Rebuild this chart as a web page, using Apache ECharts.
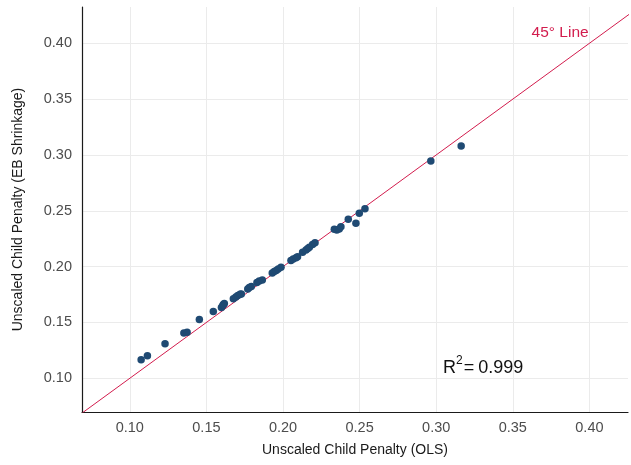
<!DOCTYPE html>
<html>
<head>
<meta charset="utf-8">
<script src="https://cdn.jsdelivr.net/npm/echarts@6/dist/echarts.min.js"></script>
<style>
  html, body { margin: 0; padding: 0; background: #ffffff; }
  #chart { width: 631px; height: 465px; }
</style>
</head>
<body>
<div id="chart"></div>
<script>
// Child penalty estimates: OLS (x) vs. empirical-Bayes shrinkage (y)
const olsPenalty = [
  0.1074, 0.1115, 0.1230, 0.1353, 0.1374, 0.1454, 0.1545, 0.1598, 0.1607, 0.1617,
  0.1611, 0.1676, 0.1692, 0.1705, 0.1720, 0.1728, 0.1770, 0.1780, 0.1793, 0.1830,
  0.1845, 0.1865, 0.1930, 0.1943, 0.1956, 0.1969, 0.1987, 0.2052, 0.2067, 0.2085,
  0.2095, 0.2128, 0.2150, 0.2162, 0.2172, 0.2193, 0.2209, 0.2335, 0.2351, 0.2367,
  0.2378, 0.2426, 0.2476, 0.2498, 0.2535, 0.2965, 0.3163
];
const ebPenalty = [
  0.1166, 0.1202, 0.1310, 0.1406, 0.1412, 0.1527, 0.1598, 0.1634, 0.1652, 0.1670,
  0.1661, 0.1713, 0.1728, 0.1741, 0.1752, 0.1755, 0.1800, 0.1813, 0.1822, 0.1858,
  0.1871, 0.1880, 0.1943, 0.1956, 0.1965, 0.1979, 0.1994, 0.2055, 0.2068, 0.2080,
  0.2089, 0.2128, 0.2149, 0.2162, 0.2173, 0.2198, 0.2214, 0.2334, 0.2328, 0.2337,
  0.2358, 0.2424, 0.2388, 0.2478, 0.2519, 0.2946, 0.3080
];
const xRange = [0.0688, 0.4252];
const yRange = [0.0698, 0.4325];
const identityLine = [0.06, 0.45];
const rSquared = '0.999';
const lineLabel = '45° Line';

const FONT = '"Liberation Sans", Arial, Helvetica, sans-serif';
const RED = '#d21c4d';
const BLUE = '#1f4a73';

const chart = echarts.init(document.getElementById('chart'), null, { renderer: 'canvas' });

const axisCommon = {
  type: 'value',
  nameLocation: 'middle',
  nameTextStyle: { fontFamily: FONT, fontSize: 14, color: '#1a1a1a' },
  axisLine: { show: true, lineStyle: { color: '#1a1a1a', width: 1.2 } },
  axisTick: { show: false },
  axisLabel: {
    fontFamily: FONT, fontSize: 14.5, color: '#4d4d4d',
    showMinLabel: false, showMaxLabel: false,
    formatter: v => v.toFixed(2)
  },
  splitLine: { show: true, showMinLine: false, showMaxLine: false, lineStyle: { color: '#ebebeb', width: 1 } },
  splitNumber: 7
};

chart.setOption({
  animation: false,
  backgroundColor: '#ffffff',
  grid: { left: 82, right: 3, top: 7, bottom: 53 },
  xAxis: Object.assign({}, axisCommon, {
    name: 'Unscaled Child Penalty (OLS)',
    nameGap: 31,
    min: xRange[0], max: xRange[1],
    axisLabel: Object.assign({}, axisCommon.axisLabel, { margin: 8 })
  }),
  yAxis: Object.assign({}, axisCommon, {
    name: 'Unscaled Child Penalty (EB Shrinkage)',
    nameGap: 57,
    min: yRange[0], max: yRange[1],
    axisLabel: Object.assign({}, axisCommon.axisLabel, { margin: 10 })
  }),
  series: [
    {
      type: 'line',
      data: identityLine.map(v => [v, v]),
      symbol: 'none',
      clip: true,
      lineStyle: { color: RED, width: 1 },
      z: 2
    },
    {
      type: 'scatter',
      data: olsPenalty.map((x, i) => [x, ebPenalty[i]]),
      symbolSize: 7.5,
      itemStyle: { color: BLUE, opacity: 1 },
      z: 3
    }
  ]
});

// Annotations anchored in data space
const p45 = chart.convertToPixel({ gridIndex: 0 }, [0.3809, 0.4092]);
const pR2 = chart.convertToPixel({ gridIndex: 0 }, [0.3045, 0.1110]);
chart.setOption({
  graphic: [
    {
      type: 'text',
      x: p45[0], y: p45[1],
      style: {
        text: lineLabel, fill: RED, fontFamily: FONT, fontSize: 15.5,
        align: 'center', verticalAlign: 'middle'
      },
      z: 10
    },
    {
      type: 'text',
      x: pR2[0], y: pR2[1],
      style: {
        text: '{r|R}{s|2}{e|=}{r|0.999}',
        fontFamily: FONT,
        align: 'left', verticalAlign: 'middle',
        rich: {
          r: { fontFamily: FONT, fontSize: 18, fill: '#111111', verticalAlign: 'bottom', lineHeight: 22 },
          e: { fontFamily: FONT, fontSize: 18, fill: '#111111', verticalAlign: 'bottom', lineHeight: 22, padding: [0, 4, 0, 1] },
          s: { fontFamily: FONT, fontSize: 12, fill: '#111111', verticalAlign: 'top', lineHeight: 22 }
        }
      },
      z: 10
    }
  ]
});
</script>
</body>
</html>
